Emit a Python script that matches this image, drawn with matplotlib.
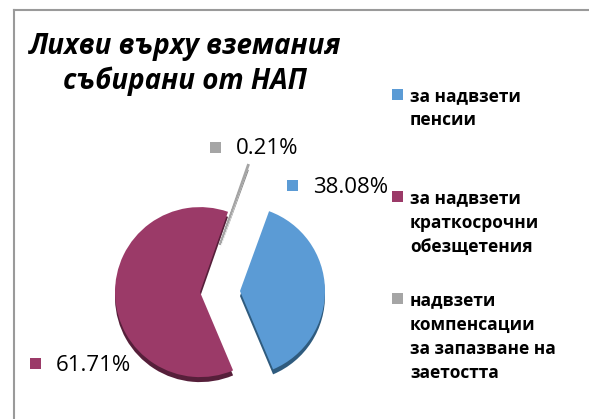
import matplotlib
matplotlib.use("Agg")
import matplotlib.pyplot as plt
from matplotlib.patches import Rectangle
from matplotlib.lines import Line2D

### data
categories = ["за надвзети\nпенсии",
              "за надвзети\nкраткосрочни\nобезщетения",
              "надвзети\nкомпенсации\nза запазване на\nзаетостта"]
shares = [38.08, 61.71, 0.21]
title = "Лихви върху вземания\nсъбирани от НАП"

colors = ['#5B9BD5', '#9B3A68', '#A5A5A5']
shadow_colors = ['#2F5B7E', '#561F3A', '#8A8A8A']

W, H = 589, 419
R = 85.0             ### pie radius, px
cx, cy = 203, 292    ### pie centre, px from top-left
explode = [37/R, 3/R, 50/R]

plt.rcParams['font.family'] = ['Open Sans', 'DejaVu Sans']

fig = plt.figure(figsize=(W/100., H/100.), dpi=100)
fig.patch.set_facecolor('white')
ax = fig.add_axes([0, 0, 1, 1])

kw = dict(explode=explode, startangle=70, counterclock=False, radius=1.0)
ax.pie(shares, colors=shadow_colors, center=(0, -5/R),
       wedgeprops=dict(linewidth=0), **kw)
wedges, _ = ax.pie(shares, colors=colors, center=(0, 0),
                   wedgeprops=dict(linewidth=0), **kw)
wedges[2].set_edgecolor(colors[2])
wedges[2].set_linewidth(1.2)
ax.set_xlim(-cx/R, (W-cx)/R)
ax.set_ylim(-(H-cy)/R, cy/R)
ax.set_aspect('auto')
ax.axis('off')

def fx(x): return x/float(W)
def fy(y): return 1.0 - y/float(H)

def square(x, y, c, s=11):
    fig.add_artist(Rectangle((fx(x), fy(y+s)), s/float(W), s/float(H),
                             transform=fig.transFigure, color=c, lw=0))

### frame
fig.add_artist(Line2D([fx(14), fx(14)], [0, fy(10)], color='#9A9A9A', lw=1.5))
fig.add_artist(Line2D([fx(14), 1], [fy(10), fy(10)], color='#9A9A9A', lw=1.5))

### title
fig.text(fx(185), fy(64), title, ha='center', va='center', fontsize=20,
         fontweight='bold', fontstyle='italic', linespacing=1.25)

### percentage labels
lab_pos = [(287, 180), (30, 358), (210, 142)]
for v, c, (x, y) in zip(shares, colors, lab_pos):
    square(x, y, c)
    fig.text(fx(x+26), fy(y+7), "%.2f%%" % v, ha='left', va='center', fontsize=16)

### legend
for i, (lab, c) in enumerate(zip(categories, colors)):
    n = lab.count("\n") + 1
    yc = 108 + 114.5*i
    ytop = yc - (n-1)/2.0*25.5
    square(392, ytop-6, c)
    fig.text(fx(410), fy(yc), lab, ha='left', va='center', fontsize=12.5,
             fontweight='bold', linespacing=1.45)

fig.savefig("out.png", dpi=100)
